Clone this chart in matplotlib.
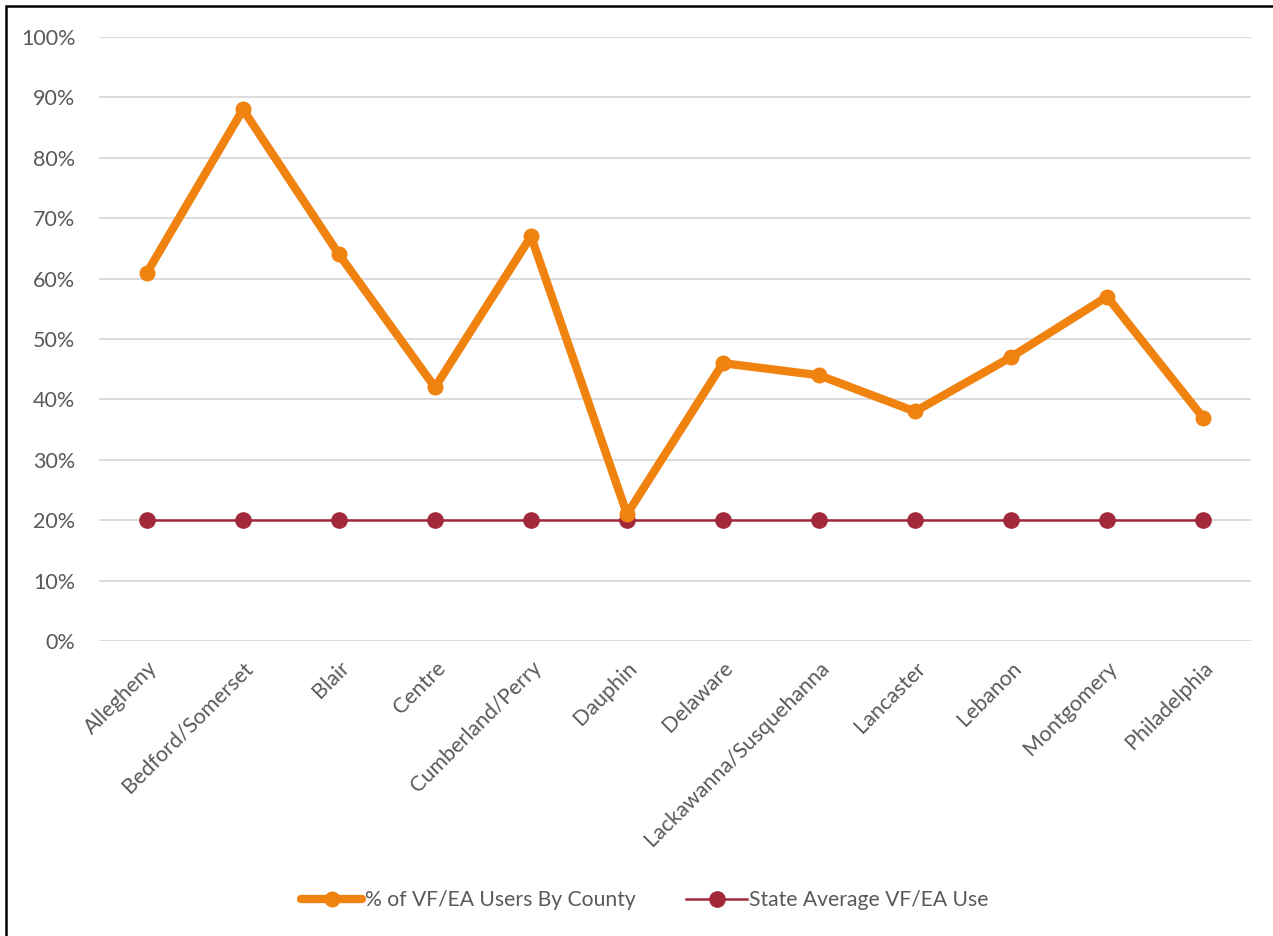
import matplotlib
matplotlib.use("Agg")
import matplotlib.pyplot as plt
from matplotlib.patches import Rectangle
from matplotlib.ticker import PercentFormatter

counties = ["Allegheny", "Bedford/Somerset", "Blair", "Centre", "Cumberland/Perry",
            "Dauphin", "Delaware", "Lackawanna/Susquehanna", "Lancaster", "Lebanon",
            "Montgomery", "Philadelphia"]
county_pct = [61, 88, 64, 42, 67, 21, 46, 44, 38, 47, 57, 37]
state_avg = [20] * 12
yticks = list(range(0, 101, 10))

plt.rcParams['font.family'] = ['Lato', 'DejaVu Sans']
txt = '#595959'
fs = 15.5

fig = plt.figure(figsize=(12.73, 9.36), dpi=100)
ax = fig.add_axes([99/1273, 1 - 641/936, (1251-99)/1273, (641-37)/936])

x = list(range(len(counties)))
ax.plot(x, county_pct, color='#F0820F', lw=6, marker='o', ms=10.5,
        solid_capstyle='round', solid_joinstyle='round', label='% of VF/EA Users By County', zorder=3)
ax.plot(x, state_avg, color='#A3293A', lw=1.8, marker='o', ms=11,
        label='State Average VF/EA Use', zorder=2)

ax.set_xlim(-0.5, len(counties) - 0.5)
ax.set_ylim(0, 100)
ax.set_yticks(yticks)
ax.yaxis.set_major_formatter(PercentFormatter(decimals=0))
ax.grid(axis='y', color='#D9D9D9', lw=1.3)
ax.set_axisbelow(True)
for s in ax.spines.values():
    s.set_visible(False)
ax.tick_params(axis='both', length=0, labelsize=fs, labelcolor=txt)
ax.tick_params(axis='y', pad=17)
ax.set_xticks(x)
ax.set_xticklabels(counties, rotation=45, ha='right', rotation_mode='anchor')
ax.tick_params(axis='x', pad=12)

leg = fig.legend(loc='center', bbox_to_anchor=(645/1273, 1 - 900/936), ncol=2, frameon=False,
                 fontsize=15.2, handlelength=2.9, columnspacing=2.4, handletextpad=0.1)
for t in leg.get_texts():
    t.set_color(txt)

fig.patches.append(Rectangle((6/1273, -0.1), 1.2, 1 - 6/936 + 0.1, transform=fig.transFigure,
                             fill=False, edgecolor='black', lw=1.8))

fig.savefig('out.png', dpi=100)
